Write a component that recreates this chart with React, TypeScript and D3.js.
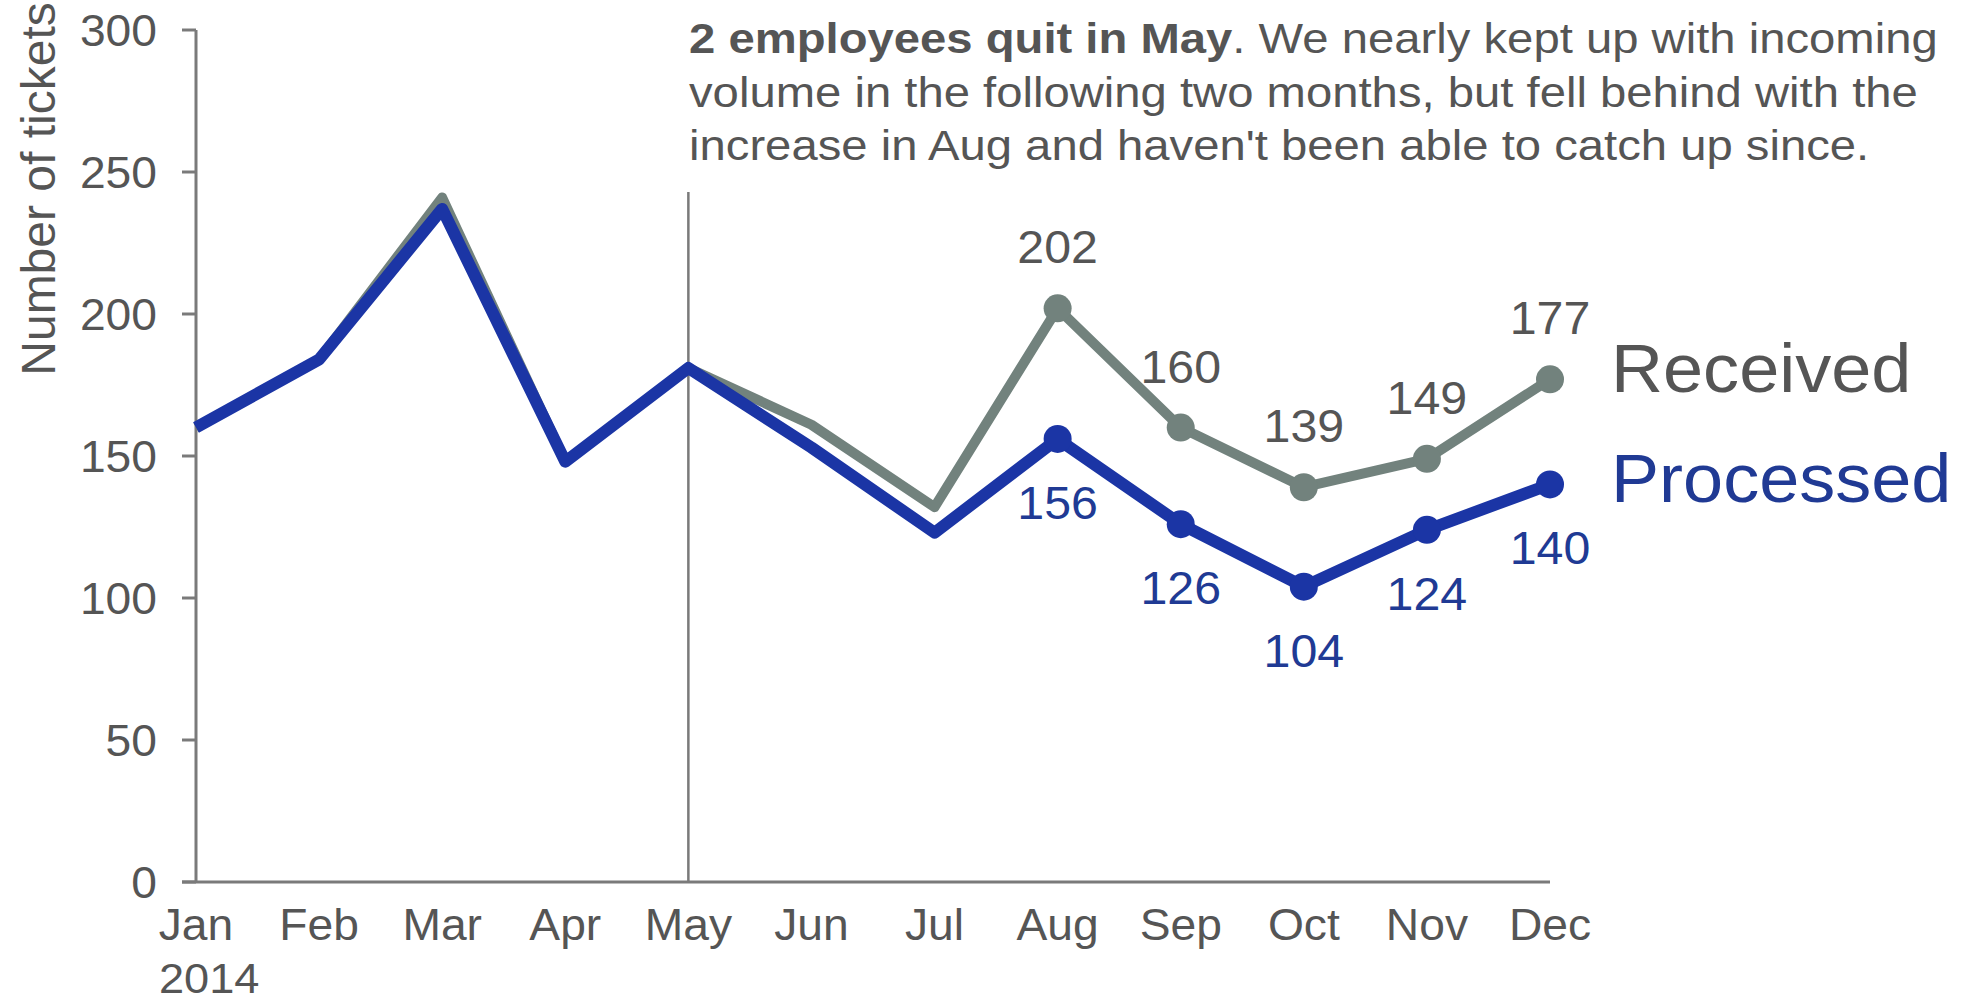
import React from 'react';
import * as d3 from 'd3';

const months = ['Jan', 'Feb', 'Mar', 'Apr', 'May', 'Jun', 'Jul', 'Aug', 'Sep', 'Oct', 'Nov', 'Dec'];
const received = [160, 184, 241, 148, 181, 161, 132, 202, 160, 139, 149, 177];
const processed = [160, 184, 237, 148, 181, 153, 123, 156, 126, 104, 124, 140];
const yTicks = [0, 50, 100, 150, 200, 250, 300];
const yearLabel = '2014';
const yAxisTitle = 'Number of tickets';
const markerFrom = 'Aug';
const eventMonth = 'May';
const annotationBold = '2 employees quit in May';
const annotationRest = '. We nearly kept up with incoming';
const annotationLines = [
  'volume in the following two months, but fell behind with the',
  "increase in Aug and haven't been able to catch up since.",
];
const seriesNames = ['Received', 'Processed'];

const W = 1963;
const H = 1006;
const FONT = '"Liberation Sans", Arial, Helvetica, sans-serif';
const GRAY_LINE = '#72827d';
const BLUE_LINE = '#1b35a5';
const TEXT = '#555555';
const BLUE_TEXT = '#203a94';
const AXIS = '#7a7a7a';

function SText(props: {
  x: number;
  y: number;
  s?: number;
  anchor?: string;
  size: number;
  fill: string;
  dy?: string;
  children: React.ReactNode;
}) {
  const { x, y, s = 1.05, anchor = 'start', size, fill, dy, children } = props;
  return (
    <text
      transform={`translate(${x},${y}) scale(${s},1)`}
      textAnchor={anchor}
      fontSize={size}
      fill={fill}
      dy={dy}
    >
      {children}
    </text>
  );
}

export default function App() {
  const x = d3.scalePoint<string>().domain(months).range([196, 1550]);
  const y = d3.scaleLinear().domain([0, 300]).range([882, 30]);
  const line = d3
    .line<number>()
    .x((_, i) => x(months[i]) as number)
    .y((d) => y(d));

  const startIdx = months.indexOf(markerFrom);
  const markIdx = months.map((_, i) => i).filter((i) => i >= startIdx);
  const last = months.length - 1;
  const x0 = x(months[0]) as number;
  const AS = 1.125;

  return (
    <div style={{ position: 'absolute', left: 0, top: 0 }}>
      <svg width={W} height={H} style={{ display: 'block', background: '#fff' }} fontFamily={FONT}>
        {/* annotation */}
        <SText x={689} y={53} s={AS} size={42} fill={TEXT}>
          <tspan fontWeight="bold">{annotationBold}</tspan>
          <tspan>{annotationRest}</tspan>
        </SText>
        {annotationLines.map((l, i) => (
          <SText key={i} x={689} y={53 + (i + 1) * 53.5} s={AS} size={42} fill={TEXT}>
            {l}
          </SText>
        ))}

        {/* event line */}
        <line
          x1={x(eventMonth)}
          x2={x(eventMonth)}
          y1={192}
          y2={y(0)}
          stroke={AXIS}
          strokeWidth={2.5}
        />

        {/* axes */}
        <line x1={x0} x2={x0} y1={y(300)} y2={y(0)} stroke={AXIS} strokeWidth={3} />
        <line x1={x0 - 14} x2={x(months[last])} y1={y(0)} y2={y(0)} stroke={AXIS} strokeWidth={3} />
        {yTicks.map((t) => (
          <g key={t}>
            <line x1={x0 - 14} x2={x0} y1={y(t)} y2={y(t)} stroke={AXIS} strokeWidth={3} />
            <SText x={157} y={y(t)} dy="0.36em" anchor="end" size={44} fill={TEXT}>
              {t}
            </SText>
          </g>
        ))}
        {months.map((m) => (
          <SText key={m} x={x(m) as number} y={940} anchor="middle" size={44} fill={TEXT}>
            {m}
          </SText>
        ))}
        <SText x={x0 - 37} y={993} size={43} fill={TEXT}>
          {yearLabel}
        </SText>
        <text
          transform={`translate(55, 189) rotate(-90)`}
          textAnchor="middle"
          fontSize={48}
          fill={TEXT}
        >
          {yAxisTitle}
        </text>

        {/* series */}
        <path d={line(received) || ''} fill="none" stroke={GRAY_LINE} strokeWidth={10} strokeLinejoin="round" />
        <path d={line(processed) || ''} fill="none" stroke={BLUE_LINE} strokeWidth={12} strokeLinejoin="round" />
        {markIdx.map((i) => (
          <circle key={'r' + i} cx={x(months[i])} cy={y(received[i])} r={14} fill={GRAY_LINE} />
        ))}
        {markIdx.map((i) => (
          <circle key={'p' + i} cx={x(months[i])} cy={y(processed[i])} r={14} fill={BLUE_LINE} />
        ))}
        {markIdx.map((i) => (
          <SText
            key={'rl' + i}
            x={x(months[i]) as number}
            y={y(received[i]) - 45}
            anchor="middle"
            size={46}
            fill={TEXT}
          >
            {received[i]}
          </SText>
        ))}
        {markIdx.map((i) => (
          <SText
            key={'pl' + i}
            x={x(months[i]) as number}
            y={y(processed[i]) + 80}
            anchor="middle"
            size={46}
            fill={BLUE_TEXT}
          >
            {processed[i]}
          </SText>
        ))}

        {/* series labels */}
        <SText x={1611} y={392} s={1.06} size={68} fill={TEXT}>
          {seriesNames[0]}
        </SText>
        <SText x={1611} y={502} s={1.06} size={68} fill={BLUE_TEXT}>
          {seriesNames[1]}
        </SText>
      </svg>
    </div>
  );
}
